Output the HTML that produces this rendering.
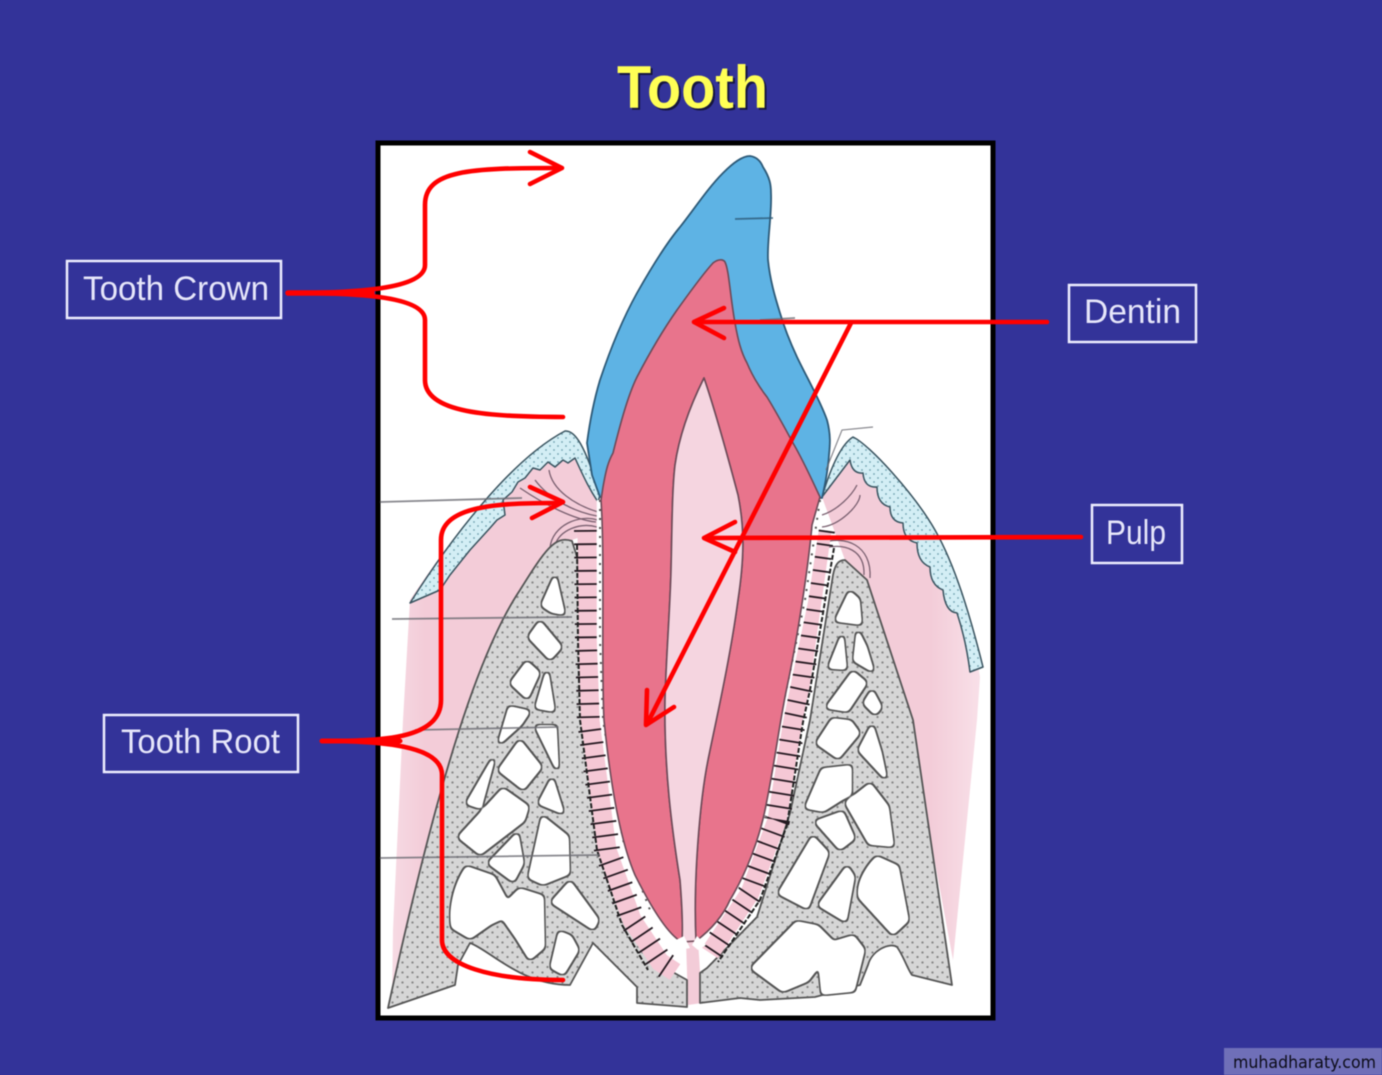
<!DOCTYPE html>
<html><head><meta charset="utf-8"><title>Tooth</title>
<style>html,body{margin:0;padding:0;background:#333399}svg{display:block;filter:blur(.55px)}</style></head>
<body>
<svg xmlns="http://www.w3.org/2000/svg" width="1382" height="1075" viewBox="0 0 1382 1075">
<defs>
<pattern id="bd" width="10" height="10" patternUnits="userSpaceOnUse">
<rect width="10" height="10" fill="#d6d6d6"/>
<circle cx="2.5" cy="2.5" r="1.15" fill="#858585"/><circle cx="7.5" cy="7" r="1.15" fill="#858585"/>
</pattern>
<pattern id="gd" width="8" height="8" patternUnits="userSpaceOnUse">
<rect width="8" height="8" fill="#d3eef5"/>
<circle cx="2" cy="2" r=".9" fill="#6f9fae"/><circle cx="6" cy="6" r=".9" fill="#6f9fae"/>
</pattern>
<linearGradient id="pl" x1="390" x2="425" y1="0" y2="0" gradientUnits="userSpaceOnUse"><stop offset="0" stop-color="#f7dbe4"/><stop offset="1" stop-color="#f3ccd8"/></linearGradient>
<linearGradient id="pr" x1="930" x2="985" y1="0" y2="0" gradientUnits="userSpaceOnUse"><stop offset="0" stop-color="#f3ccd8"/><stop offset="1" stop-color="#f9e2ea"/></linearGradient>
<filter id="rnd" filterUnits="userSpaceOnUse" x="380" y="140" width="620" height="880" color-interpolation-filters="sRGB">
<feGaussianBlur in="SourceAlpha" stdDeviation="2" result="b"/>
<feComponentTransfer in="b" result="a"><feFuncA type="linear" slope="12" intercept="-5"/></feComponentTransfer>
<feMorphology in="a" operator="dilate" radius="1.5" result="d"/>
<feFlood flood-color="#555555"/><feComposite in2="d" operator="in" result="o"/>
<feFlood flood-color="#ffffff"/><feComposite in2="a" operator="in" result="f"/>
<feMerge><feMergeNode in="o"/><feMergeNode in="f"/></feMerge>
</filter>
</defs>
<rect width="1382" height="1075" fill="#333399"/>
<text x="619" y="110" font-family="Liberation Sans, sans-serif" font-weight="700" font-size="60" textLength="151" lengthAdjust="spacingAndGlyphs" fill="#15153f">Tooth</text>
<text x="617" y="108" font-family="Liberation Sans, sans-serif" font-weight="700" font-size="60" textLength="151" lengthAdjust="spacingAndGlyphs" fill="#ffff55">Tooth</text>
<rect x="378" y="143" width="615" height="875" fill="#fff" stroke="#000" stroke-width="5"/>

<!-- gum connective tissue -->
<path d="M410,600 C450,540 510,460 565,435 L600,495 L600,530 L572,540 L440,790 L392,1000 L393,930 L403,720 Z" fill="url(#pl)"/>
<path d="M822,497 L853,440 C870,445 915,495 935,530 C955,565 970,615 980,677 L977,720 L953,960 L905,700 L845,560 Z" fill="url(#pr)"/>
<path d="M686,940 L698,940 L702,1003 L688,1005 Z" fill="#f3ccd8"/>

<!-- epithelium -->
<path d="M410,603 C450,540 510,460 565,431 C575,430 585,445 600,495 L598,502 C590,490 585,480 575,458 L568,463 L563,460 L555,467 L548,462 L540,470 L533,468 L525,478 L518,482 L512,492 L503,500 L505,515 L497,520 L490,528 L470,550 L450,575 L440,590 Z" fill="url(#gd)" stroke="#3a5460" stroke-width="1.5" stroke-linejoin="round"/>
<path d="M822,497 C830,470 840,445 853,437 C870,445 915,495 935,530 C955,565 970,615 983,667 L970,672 Q966,640 957,613 Q945,612 943,590 Q930,585 930,567 Q917,562 917,543 Q903,540 903,523 Q890,522 890,507 Q877,504 877,487 Q864,488 863,473 Q852,474 850,460 Z" fill="url(#gd)" stroke="#3a5460" stroke-width="1.5" stroke-linejoin="round"/>
<path d="M549,470 C552,490 575,505 598,512 M535,480 C550,500 575,512 597,516 M520,488 C545,505 575,520 596,522" fill="none" stroke="#7a6070" stroke-width="1.3"/>
<path d="M822,515 C838,510 852,495 857,485 M822,527 C840,525 860,505 860,495" fill="none" stroke="#7a6070" stroke-width="1.3"/>
<path d="M550,548 C552,525 580,514 597,520 M555,545 C560,530 580,522 597,527" fill="none" stroke="#7a6070" stroke-width="1.3"/>
<path d="M822,543 C845,535 872,545 870,578 M825,548 C845,543 865,550 864,575" fill="none" stroke="#7a6070" stroke-width="1.3"/>

<!-- bone -->
<path d="M572,541 C555,535 545,550 520,590 C480,650 440,770 388,1008 L455,985 L458,965 L470,943 C490,950 520,985 570,985 L593,943 L637,987 L637,1003 L687,1007 L687,980 L660,965 L632,920 L607,850 L590,720 L578,560 Z" fill="url(#bd)" stroke="#555" stroke-width="1.8" stroke-linejoin="round"/>
<path d="M845,560 C838,560 835,565 833,575 L810,720 L790,813 L757,917 L707,968 L700,973 L700,1003 L740,998 L760,1000 L815,997 L860,985 L868,965 C872,950 890,942 897,947 C903,955 908,970 912,975 L952,985 L913,720 L867,580 Z" fill="url(#bd)" stroke="#555" stroke-width="1.8" stroke-linejoin="round"/>

<g fill="#fff" stroke="#fff" stroke-width="3" stroke-linejoin="round" filter="url(#rnd)">
<path d="M555,578 L543,605 L552,611 L563,613 Z"/>
<path d="M540,623 L530,637 L550,658 L560,647 Z"/>
<path d="M527,663 L512,683 L527,697 L538,673 Z"/>
<path d="M547,673 L537,707 L553,710 Z"/>
<path d="M510,708 L500,742 L520,724 L528,712 Z"/>
<path d="M537,727 L555,727 L557,768 Z"/>
<path d="M520,742 L500,770 L523,788 L540,767 Z"/>
<path d="M493,760 L468,803 L480,807 Z"/>
<path d="M552,780 L540,803 L562,812 Z"/>
<path d="M503,790 L460,837 L480,853 L523,820 L527,807 Z"/>
<path d="M517,835 L490,863 L513,880 L522,863 Z"/>
<path d="M543,818 L530,877 L543,883 L568,873 L567,837 Z"/>
<path d="M467,868 C455,885 450,910 453,927 L470,937 L490,923 L503,917 L517,937 L530,958 L543,947 L542,897 L520,890 L507,903 L493,877 Z"/>
<path d="M570,883 L553,902 L593,928 L597,920 Z"/>
<path d="M560,933 L552,967 L563,973 L577,950 L570,937 Z"/>
<path d="M850,593 L837,620 L860,623 L858,600 Z"/>
<path d="M842,637 L830,667 L845,668 Z"/>
<path d="M858,633 L855,660 L872,670 L865,647 Z"/>
<path d="M853,673 L828,707 L847,710 L865,683 Z"/>
<path d="M872,692 L865,703 L875,713 L880,707 Z"/>
<path d="M833,720 L818,743 L838,757 L858,733 L850,722 Z"/>
<path d="M872,727 L860,750 L885,777 L880,753 Z"/>
<path d="M823,770 L807,807 L823,810 L850,793 L850,767 Z"/>
<path d="M870,785 L847,803 L870,843 L892,845 L887,807 Z"/>
<path d="M842,813 L817,822 L840,848 L853,838 Z"/>
<path d="M813,838 L780,893 L807,907 L827,853 Z"/>
<path d="M847,868 L820,905 L845,920 L853,877 Z"/>
<path d="M877,858 C865,870 858,885 860,897 L893,933 L907,920 L897,867 Z"/>
<path d="M797,923 L753,968 L783,990 L807,980 L820,963 L823,993 L853,990 L863,950 L853,937 L833,943 L817,927 Z"/>
</g>

<!-- periodontal ligament -->
<g fill="none">
<path d="M587,530 L588,640 L590,720 L607,850 L632,920 L660,962 L675,972" stroke="#f5c8d5" stroke-width="19"/>
<path d="M587,530 L588,640 L590,720 L607,850 L632,920 L660,962 L675,972" stroke="#241820" stroke-width="26" stroke-dasharray="1.8 11.5"/>
<path d="M577,545 L578,640 L580,720 L597,850 L622,925 L648,970" stroke="#222" stroke-width="2" stroke-dasharray="5 2"/>
<path d="M822,530 L800,687 L793,720 L777,820 L750,893 L710,953" stroke="#f5c8d5" stroke-width="19"/>
<path d="M822,530 L800,687 L793,720 L777,820 L750,893 L710,953" stroke="#241820" stroke-width="26" stroke-dasharray="1.8 11.5"/>
<path d="M834,548 L810,690 L803,722 L787,825 L760,900 L718,962" stroke="#222" stroke-width="2" stroke-dasharray="5 2"/>
<path d="M600,500 L600,640 L603,720 L623,840 L650,910 L680,945" stroke="#fff" stroke-width="6.5"/>
<path d="M820,500 L805,600 L780,720 L757,833 L733,893 L697,945" stroke="#fff" stroke-width="6.5"/>
<path d="M600,500 L600,640 L603,720 L623,840 L650,910" stroke="#555" stroke-width="2" stroke-dasharray="2 7"/>
<path d="M820,500 L805,600 L780,720 L757,833 L733,893" stroke="#555" stroke-width="2" stroke-dasharray="2 7"/>
</g>

<!-- enamel -->
<path d="M600,497 L592,475 L587,443 C590,420 594,400 600,380 C610,350 622,320 637,293 C650,270 665,245 680,227 C695,208 708,188 723,173 C733,163 742,156 750,156 C757,157 761,162 763,167 C770,178 771,185 771,193 C772,215 767,240 768,260 C770,280 775,297 780,313 C785,330 790,342 797,357 C807,378 820,400 827,420 C831,435 830,445 829,455 C828,470 825,485 822,498 Z" fill="#5eb3e4" stroke="#2d5a78" stroke-width="1.8" stroke-linejoin="round"/>

<!-- dentin -->
<path d="M601,500 L603,487 C606,470 608,462 613,453 C620,425 628,395 637,377 C650,352 663,330 677,310 C690,292 702,275 713,263 C718,259 723,259 725,262 C729,270 730,295 735,323 C738,340 741,352 747,363 C752,375 760,388 767,397 C778,415 787,432 793,443 C803,460 812,480 820,497 L812,525 C808,570 797,640 787,687 C780,720 775,760 767,800 C760,840 745,875 730,900 C722,918 708,932 696,941 C693,880 700,800 708,760 C715,725 730,660 738,600 C744,560 745,530 738,495 C730,465 715,410 704,378 C693,400 680,430 675,465 C672,490 672,530 671,570 C670,610 666,660 665,700 C664,770 672,830 680,880 C682,905 683,925 682,942 C668,935 650,905 635,875 C620,840 610,780 604,720 C601,660 605,560 601,500 Z" fill="#e8748c" stroke="#6d4a58" stroke-width="1.6" stroke-linejoin="round"/>
<!-- pulp -->
<path d="M704,378 C715,410 730,465 738,495 C745,530 744,560 738,600 C730,660 715,725 708,760 C700,800 693,880 696,941 L682,942 C683,925 682,905 680,880 C672,830 664,770 665,700 C666,660 670,610 671,570 C672,530 672,490 675,465 C680,430 693,400 704,378 Z" fill="#f5d5e0" stroke="#6d4a58" stroke-width="1.6" stroke-linejoin="round"/>
<path d="M672,942 L684,936 L690,948 L680,950 Z M697,936 L706,945 L698,950 L692,945 Z" fill="#fff"/>

<!-- leader lines -->
<g stroke="#6a6a72" stroke-width="1.8" fill="none" opacity=".8">
<path d="M380,502 L522,498"/>
<path d="M392,619 L572,617"/>
<path d="M415,730 L558,727"/>
<path d="M380,858 L600,855"/>
<path d="M735,219 L773,218" stroke="#2d5a78"/>
<path d="M760,320 L795,318"/>
<path d="M826,470 L842,430 L873,427" stroke-width="1.2"/>
</g>

<!-- red connectors -->
<g fill="none" stroke="#f00" stroke-width="4.6" stroke-linecap="round" stroke-linejoin="round">
<path d="M288,293 C350,293 425,290 425,265 L425,205 C425,170 470,168 558,168"/>
<path d="M530,152 L562,168 L530,184"/>
<path d="M288,293 C350,293 425,295 425,320 L425,380 C425,413 490,417 563,417"/>
<path d="M288,293 L372,293" stroke-width="5.5"/>
<path d="M322,741 C380,741 441,740 441,700 L441,540 C441,505 500,503 558,503"/>
<path d="M530,487 L563,502 L532,518"/>
<path d="M322,741 C380,741 442,745 442,775 L442,940 C442,965 490,980 563,980"/>
<path d="M322,741 L400,741" stroke-width="5"/>
<path d="M1047,322 L695,322"/>
<path d="M724,308 L694,322 L724,338"/>
<path d="M851,323 L647,724"/>
<path d="M647,690 L646,725 L674,707"/>
<path d="M1081,537 L706,538"/>
<path d="M735,522 L704,538 L735,552"/>
</g>

<!-- labels -->
<g fill="#333399" stroke="#eeeeff" stroke-width="2.5">
<rect x="67" y="261" width="214" height="57"/>
<rect x="1069" y="285" width="127" height="57"/>
<rect x="1092" y="505" width="90" height="58"/>
<rect x="104" y="715" width="194" height="57"/>
</g>
<g font-family="Liberation Sans, sans-serif" font-size="34" fill="#e6e6fa">
<text x="83" y="300" textLength="186" lengthAdjust="spacingAndGlyphs">Tooth Crown</text>
<text x="1084" y="323" textLength="97" lengthAdjust="spacingAndGlyphs">Dentin</text>
<text x="1106" y="544" textLength="60" lengthAdjust="spacingAndGlyphs">Pulp</text>
<text x="121" y="753" textLength="159" lengthAdjust="spacingAndGlyphs">Tooth Root</text>
</g>

<!-- watermark -->
<rect x="1224" y="1048" width="158" height="27" fill="#6f6fb8"/>
<text x="1233" y="1068" font-family="DejaVu Sans, sans-serif" font-size="17" fill="#0c0c18" textLength="143" lengthAdjust="spacingAndGlyphs">muhadharaty.com</text>
</svg>
</body></html>
